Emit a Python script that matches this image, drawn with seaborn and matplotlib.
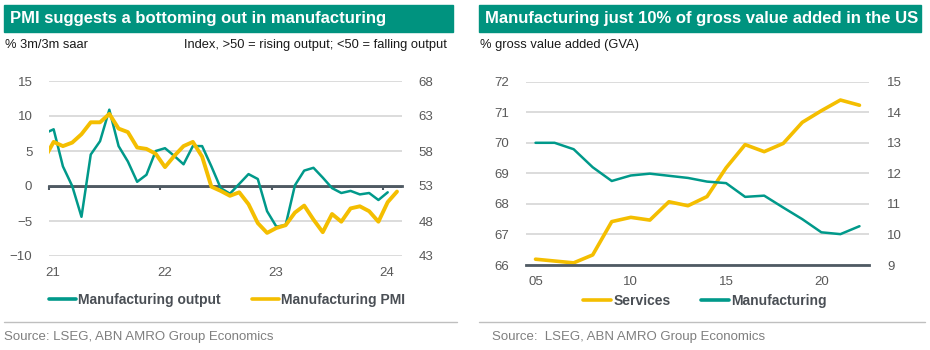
import pandas as pd
import seaborn as sns
import matplotlib.pyplot as plt
from matplotlib.patches import Rectangle
from matplotlib.lines import Line2D
from matplotlib.transforms import ScaledTranslation

# left panel, monthly from Dec 2020
mfg_output = [7.5, 8.1, 2.8, 0.0, -4.4, 4.5, 6.4, 10.9, 5.7, 3.5, 0.6, 1.6, 5.0,
              5.4, 4.3, 3.1, 5.7, 5.7, 2.8, -0.3, -1.1, 0.3, 1.7, 1.0, -3.6,
              -5.8, -5.6, 0.1, 2.2, 2.6, 1.2, -0.3, -1.0, -0.7, -1.2, -1.0, -2.0,
              -0.9]
mfg_pmi = [56.9, 59.3, 58.7, 59.2, 60.4, 62.1, 62.1, 63.3, 61.2, 60.7, 58.5, 58.3, 57.6,
           55.7, 57.3, 58.7, 59.3, 57.2, 52.9, 52.3, 51.6, 52.1, 50.4, 47.7, 46.3,
           47.0, 47.4, 49.2, 50.2, 48.2, 46.4, 49.0, 47.9, 49.8, 50.1, 49.4, 47.9,
           50.7, 52.2]
year_ticks = [2021, 2022, 2023, 2024]
year_labels = ['21', '22', '23', '24']

# right panel, annual
years = list(range(2005, 2023))
services = [66.19, 66.13, 66.07, 66.33, 67.42, 67.56, 67.47, 68.07, 67.94, 68.24,
            69.18, 69.94, 69.71, 69.98, 70.67, 71.05, 71.40, 71.23]
manufacturing = [13.0, 13.0, 12.79, 12.2, 11.75, 11.93, 11.99, 11.92, 11.85, 11.73,
                 11.68, 11.23, 11.27, 10.88, 10.5, 10.07, 10.01, 10.27]
gva_ticks = [2005, 2010, 2015, 2020]
gva_labels = ['05', '10', '15', '20']

TEAL = '#00937F'
LINE_TEAL = '#00998A'
YELLOW = '#F4BE00'
DARK = '#4F5A63'
GRID = '#D9D9D9'
TICKC = '#595959'

sns.set_theme(style='white')
plt.rcParams['font.family'] = ['Liberation Sans', 'DejaVu Sans']

months = pd.date_range('2020-12-01', periods=len(mfg_pmi), freq='MS')
month_x = months.year + (months.month - 0.5) / 12

fig = plt.figure(figsize=(9.3, 3.5), dpi=100)
W, H = 930, 350


def box(x0, y0, x1, y1):
    return [x0 / W, 1 - y1 / H, (x1 - x0) / W, (y1 - y0) / H]


def style(ax):
    for s in ax.spines.values():
        s.set_visible(False)
    ax.tick_params(length=0, labelsize=9.5, labelcolor=TICKC)
    ax.set_xlabel('')
    ax.set_ylabel('')


# ---- left chart
ax1 = fig.add_axes(box(49, 81, 402, 256))
ax1r = ax1.twinx()
ax1.axhline(0, color=DARK, lw=2, zorder=1.5)
sns.lineplot(x=month_x[:len(mfg_output)], y=mfg_output, ax=ax1, color=LINE_TEAL, lw=1.8,
             legend=False, zorder=3)
sns.lineplot(x=month_x, y=mfg_pmi, ax=ax1r, color=YELLOW, lw=2.8, legend=False)
ax1.set_ylim(-10, 15)
ax1r.set_ylim(43, 68)
ax1.set_yticks(range(-10, 16, 5))
ax1r.set_yticks(range(43, 69, 5))
ax1.set_xlim(2021, 2024.17)
ax1.set_xticks(year_ticks, year_labels)
for a in (ax1, ax1r):
    style(a)
ax1.tick_params(axis='y', pad=12)
ax1r.tick_params(axis='y', pad=12)
ax1.tick_params(axis='x', pad=8)
ax1.grid(axis='y', color=GRID, lw=1.3)
ax1.grid(axis='x', visible=False)
for lab in ax1.get_xticklabels():
    lab.set_transform(lab.get_transform() + ScaledTranslation(0.04, 0, fig.dpi_scale_trans))

zero = ax1.secondary_xaxis(0, transform=ax1.transData)
zero.set_xticks(year_ticks, labels=[])
zero.spines['bottom'].set_color(DARK)
zero.spines['bottom'].set_linewidth(2)
zero.tick_params(length=3, width=1.5, color=DARK, direction='out')

# ---- right chart
ax2 = fig.add_axes(box(526, 81.7, 869, 265))
ax2r = ax2.twinx()
sns.lineplot(x=years, y=services, ax=ax2, color=YELLOW, lw=2.6, legend=False)
sns.lineplot(x=years, y=manufacturing, ax=ax2r, color=LINE_TEAL, lw=1.8, legend=False)
ax2.set_ylim(66, 72)
ax2r.set_ylim(9, 15)
ax2.set_yticks(range(66, 73))
ax2r.set_yticks(range(9, 16))
ax2.set_xlim(2004.5, 2022.5)
ax2.set_xticks(gva_ticks, gva_labels)
ax2.set_xticks([t - 0.5 for t in gva_ticks], minor=True)
for a in (ax2, ax2r):
    style(a)
ax2.tick_params(axis='y', pad=12)
ax2r.tick_params(axis='y', pad=13)
ax2.tick_params(axis='x', pad=8)
ax2.tick_params(axis='x', which='minor', length=3, width=1.5, color=DARK, direction='out')
ax2.spines['bottom'].set_visible(True)
ax2.spines['bottom'].set_color(DARK)
ax2.spines['bottom'].set_linewidth(2)
ax2.grid(axis='y', color=GRID, lw=1.3)
ax2.grid(axis='x', visible=False)

# ---- headers, legends, sources
for x0, x1, title, tx in [(4, 453, 'PMI suggests a bottoming out in manufacturing', 10),
                          (479, 921, 'Manufacturing just 10% of gross value added in the US', 485)]:
    fig.patches.append(Rectangle((x0 / W, 1 - 32 / H), (x1 - x0) / W, 27 / H,
                                 transform=fig.transFigure, color=TEAL, zorder=0))
    fig.text(tx / W, 1 - 19 / H, title, color='white', fontsize=12, fontweight='bold',
             va='center', ha='left')
    fig.add_artist(plt.Line2D([x0 / W, (x1 + 4) / W], [1 - 322 / H] * 2, color='#BFBFBF',
                              lw=1, transform=fig.transFigure))

sub = dict(fontsize=9.3, color='#1A1A1A', va='center')
fig.text(5 / W, 1 - 45 / H, '% 3m/3m saar', ha='left', **sub)
fig.text(447 / W, 1 - 45 / H, 'Index, >50 = rising output; <50 = falling output', ha='right', **sub)
fig.text(480 / W, 1 - 45 / H, '% gross value added (GVA)', ha='left', **sub)

src = dict(fontsize=9.5, color='#7F7F7F', va='center', ha='left')
fig.text(4 / W, 1 - 337 / H, 'Source: LSEG, ABN AMRO Group Economics', **src)
fig.text(492 / W, 1 - 337 / H, 'Source:  LSEG, ABN AMRO Group Economics', **src)


def handle(c):
    return Line2D([], [], color=c, lw=2.6)


leg = dict(loc='center', ncol=2, frameon=False, handlelength=2.0, handletextpad=0.15,
           prop={'weight': 'bold', 'size': 10}, labelcolor='#4A4F55')
fig.legend([handle(LINE_TEAL), handle(YELLOW)], ['Manufacturing output', 'Manufacturing PMI'],
           bbox_to_anchor=(227 / W, 1 - 300 / H), columnspacing=2.2, **leg)
fig.legend([handle(YELLOW), handle(LINE_TEAL)], ['Services', 'Manufacturing'],
           bbox_to_anchor=(705 / W, 1 - 301 / H), columnspacing=2.2, **leg)

fig.savefig('out.png', dpi=100)
